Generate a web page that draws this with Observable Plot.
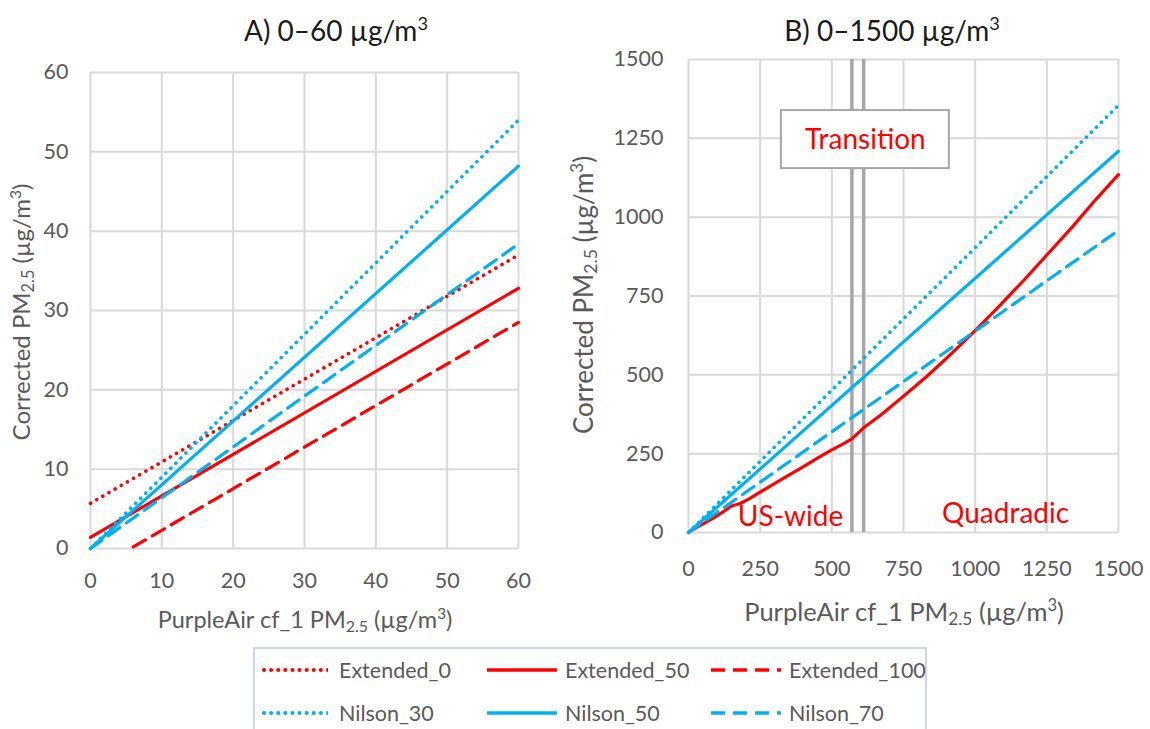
<!DOCTYPE html>
<html><head><meta charset="utf-8">
<script src="https://cdn.jsdelivr.net/npm/d3@7"></script>
<script src="https://cdn.jsdelivr.net/npm/@observablehq/plot@0.6"></script>
<style>
body{margin:0;background:#fff;}
#wrap{position:relative;width:1150px;height:729px;overflow:hidden;background:#fff;font-family:Lato,sans-serif;}
.abs{position:absolute;white-space:nowrap;line-height:1;}
.title{font-size:28px;color:#1a1a1a;transform:translate(-50%,-50%);}
.xlab{color:#595959;transform:translate(-50%,-50%);}
.ylab{color:#595959;transform:translate(-50%,-50%) rotate(-90deg);}
sub{font-size:0.68em;vertical-align:-0.22em;line-height:0;}
sup{font-size:0.65em;vertical-align:0.6em;line-height:0;}
#legend{position:absolute;left:253px;top:647px;width:674px;height:130px;border:2px solid #c9d6ec;box-sizing:border-box;background:#fff;}
.item{position:absolute;display:flex;align-items:center;font-size:21.5px;color:#595959;transform:translateY(-50%);white-space:nowrap;}
.item svg{display:block;}
</style></head><body><div id="wrap"></div>
<script>
// ---------- data ----------
const seriesNames = ["Extended_0", "Extended_50", "Extended_100", "Nilson_30", "Nilson_50", "Nilson_70"];

const aTicks = [0, 10, 20, 30, 40, 50, 60];
const aExtended0   = [[0, 5.7], [60, 37.0]];
const aExtended50  = [[0, 1.4], [60, 32.8]];
const aExtended100 = [[6, 0.2], [60, 28.5]];
const aNilson30    = [[0, 0], [60, 54.0]];
const aNilson50    = [[0, 0], [60, 48.2]];
const aNilson70    = [[0, 0], [60, 38.4]];

const bTicks = [0, 250, 500, 750, 1000, 1250, 1500];
const bExtended50 = [[0, 1], [40, 22], [90, 47], [125, 68], [150, 84], [180, 92], [210, 106], [250, 128],
  [300, 155], [350, 182], [400, 208], [450, 236], [500, 262], [540, 281], [570, 297], [611, 332],
  [670, 372], [750, 432], [830, 494], [890, 544], [950, 596], [1000, 640], [1080, 714], [1170, 800],
  [1250, 880], [1340, 970], [1420, 1055], [1500, 1135]];
const bNilson30 = [[0, 0], [1500, 1355]];
const bNilson50 = [[0, 0], [1500, 1209]];
const bNilson70 = [[0, 0], [1500, 958]];

const transitionBounds = [570, 611];
const transitionBox = [{x1: 324, x2: 910, y1: 1154, y2: 1338, label: "Transition"}];
const regionLabels = [{x: 356, y: 48, label: "US-wide"}, {x: 1106, y: 60, label: "Quadradic"}];

// ---------- styles ----------
const RED = "#ff0000", BLUE = "#00b0f0", GRID = "#d9d9d9";
const seriesColor = {Extended_0: RED, Extended_50: RED, Extended_100: RED, Nilson_30: BLUE, Nilson_50: BLUE, Nilson_70: BLUE};
const seriesKind = {Extended_0: "dot", Extended_50: "solid", Extended_100: "dash", Nilson_30: "dot", Nilson_50: "solid", Nilson_70: "dash"};
const kindStyle = {
  dot: {strokeWidth: 3.6, strokeDasharray: "0.1,7", strokeLinecap: "round"},
  solid: {strokeWidth: 3.2},
  dash: {strokeWidth: 3.2, strokeDasharray: "14,8"}
};

function lineMark(name, data) {
  return Plot.line(data, {x: d => d[0], y: d => d[1], stroke: seriesColor[name], ...kindStyle[seriesKind[name]]});
}

const wrap = document.getElementById("wrap");
const baseStyle = {fontFamily: "Lato, sans-serif", fontSize: "21.5px", color: "#595959", background: "transparent", overflow: "visible"};
const plainFmt = d3.format("d");

// ---------- panel A ----------
const plotA = Plot.plot({
  width: 560, height: 645,
  marginLeft: 90, marginRight: 42, marginTop: 72, marginBottom: 97,
  x: {domain: [0, 60]}, y: {domain: [0, 60]},
  style: baseStyle,
  marks: [
    Plot.gridX(aTicks, {stroke: GRID, strokeOpacity: 1, strokeWidth: 2}),
    Plot.gridY(aTicks, {stroke: GRID, strokeOpacity: 1, strokeWidth: 2}),
    Plot.axisX(aTicks, {tickSize: 0, tickPadding: 24, label: null, tickFormat: plainFmt}),
    Plot.axisY(aTicks, {tickSize: 0, tickPadding: 22, label: null, tickFormat: plainFmt}),
    lineMark("Extended_0", aExtended0),
    lineMark("Extended_50", aExtended50),
    lineMark("Extended_100", aExtended100),
    lineMark("Nilson_30", aNilson30),
    lineMark("Nilson_50", aNilson50),
    lineMark("Nilson_70", aNilson70)
  ]
});
plotA.style.position = "absolute"; plotA.style.left = "0px"; plotA.style.top = "0px";
wrap.appendChild(plotA);

// ---------- panel B ----------
const plotB = Plot.plot({
  width: 590, height: 645,
  marginLeft: 128, marginRight: 32, marginTop: 59, marginBottom: 113,
  x: {domain: [0, 1500]}, y: {domain: [0, 1500]},
  style: baseStyle,
  marks: [
    Plot.gridX(bTicks, {stroke: GRID, strokeOpacity: 1, strokeWidth: 2}),
    Plot.gridY(bTicks, {stroke: GRID, strokeOpacity: 1, strokeWidth: 2}),
    Plot.axisX(bTicks, {tickSize: 0, tickPadding: 28, label: null, tickFormat: plainFmt}),
    Plot.axisY(bTicks, {tickSize: 0, tickPadding: 25, label: null, tickFormat: plainFmt}),
    Plot.ruleX(transitionBounds, {stroke: "#a6a6a6", strokeWidth: 3.5}),
    lineMark("Extended_50", bExtended50),
    lineMark("Nilson_30", bNilson30),
    lineMark("Nilson_50", bNilson50),
    lineMark("Nilson_70", bNilson70),
    Plot.rect(transitionBox, {x1: "x1", x2: "x2", y1: "y1", y2: "y2", fill: "white", stroke: "#a6a6a6", strokeWidth: 2}),
    Plot.text(transitionBox, {x: d => (d.x1 + d.x2) / 2, y: d => (d.y1 + d.y2) / 2, text: "label", fill: RED, fontSize: 28}),
    Plot.text(regionLabels, {x: "x", y: "y", text: "label", fill: RED, fontSize: 28})
  ]
});
plotB.style.position = "absolute"; plotB.style.left = "560px"; plotB.style.top = "0px";
wrap.appendChild(plotB);

// ---------- titles and axis labels ----------
function addText(html, cls, x, y, size) {
  const d = document.createElement("div");
  d.className = "abs " + cls;
  d.style.left = x + "px"; d.style.top = y + "px";
  if (size) d.style.fontSize = size + "px";
  d.innerHTML = html;
  wrap.appendChild(d);
}
addText("A) 0–60 µg/m<sup>3</sup>", "title", 336, 30);
addText("B) 0–1500 µg/m<sup>3</sup>", "title", 892, 30);
addText("PurpleAir cf_1 PM<sub>2.5</sub> (µg/m<sup>3</sup>)", "xlab", 305, 620, 23.5);
addText("PurpleAir cf_1 PM<sub>2.5</sub> (µg/m<sup>3</sup>)", "xlab", 904, 612, 25.5);
addText("Corrected PM<sub>2.5</sub> (µg/m<sup>3</sup>)", "ylab", 21, 312, 24);
addText("Corrected PM<sub>2.5</sub> (µg/m<sup>3</sup>)", "ylab", 583, 295, 26);

// ---------- legend ----------
const legend = document.createElement("div");
legend.id = "legend";
wrap.appendChild(legend);
const legendCols = [{sx: 7, tx: 84, w: 66}, {sx: 232, tx: 310, w: 70}, {sx: 456, tx: 534, w: 70}];
const legendRows = [21, 64];
seriesNames.forEach((name, i) => {
  const col = legendCols[i % 3], row = legendRows[Math.floor(i / 3)];
  const st = kindStyle[seriesKind[name]];
  const sw = document.createElementNS("http://www.w3.org/2000/svg", "svg");
  sw.setAttribute("width", col.w); sw.setAttribute("height", 10);
  sw.style.position = "absolute"; sw.style.left = col.sx + "px"; sw.style.top = (row - 5) + "px";
  const ln = document.createElementNS("http://www.w3.org/2000/svg", "line");
  ln.setAttribute("x1", st.strokeLinecap ? 2 : 0); ln.setAttribute("x2", col.w); ln.setAttribute("y1", 5); ln.setAttribute("y2", 5);
  ln.setAttribute("stroke", seriesColor[name]); ln.setAttribute("stroke-width", st.strokeWidth + 0.4);
  if (st.strokeDasharray) ln.setAttribute("stroke-dasharray", st.strokeDasharray);
  if (st.strokeLinecap) ln.setAttribute("stroke-linecap", st.strokeLinecap);
  sw.appendChild(ln);
  legend.appendChild(sw);
  const t = document.createElement("div");
  t.className = "item"; t.style.left = col.tx + "px"; t.style.top = row + "px";
  t.textContent = name;
  legend.appendChild(t);
});
</script></body></html>
